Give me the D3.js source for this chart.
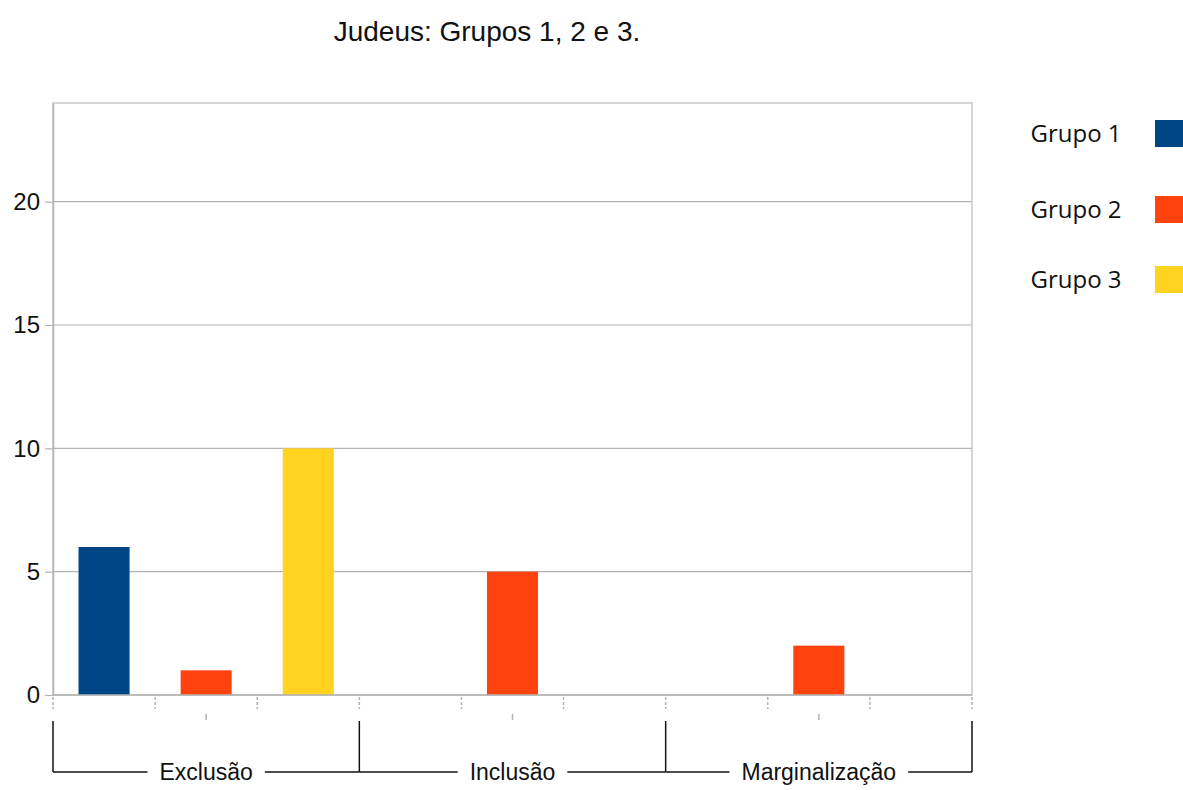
<!DOCTYPE html>
<html>
<head>
<meta charset="utf-8">
<script src="https://cdn.jsdelivr.net/npm/d3@7"></script>
<style>
  body { margin: 0; background: #fff; }
  svg { display: block; }
</style>
</head>
<body>
<svg id="chart" width="1183" height="790"></svg>
<script>
// chart data
const categories = ["Exclusão", "Inclusão", "Marginalização"];
const groups = ["Grupo 1", "Grupo 2", "Grupo 3"];
const grupo1 = [6, 0, 0];
const grupo2 = [1, 5, 2];
const grupo3 = [10, 0, 0];
const yTicks = [0, 5, 10, 15, 20];
const colors = ["#004586", "#ff420e", "#ffd320"];

const series = [grupo1, grupo2, grupo3];

const svg = d3.select("#chart");
const margin = { top: 103, right: 211, bottom: 95, left: 53 };
const W = 1183, H = 790;

const x0 = d3.scaleBand()
  .domain(categories)
  .range([margin.left, W - margin.right])
  .padding(0);

const x1 = d3.scaleBand()
  .domain(groups)
  .range([0, x0.bandwidth()])
  .padding(0);

const y = d3.scaleLinear()
  .domain([0, 24])
  .range([H - margin.bottom, margin.top]);

const axisFont = "Liberation Sans, Arial, sans-serif";

// title
svg.append("text")
  .attr("x", 487)
  .attr("y", 41)
  .attr("text-anchor", "middle")
  .style("font-family", axisFont)
  .style("font-size", "28px")
  .attr("fill", "#111")
  .text("Judeus: Grupos 1, 2 e 3.");

// grid
svg.append("g")
  .selectAll("line")
  .data(yTicks.filter(d => d > 0))
  .join("line")
  .attr("x1", margin.left)
  .attr("x2", W - margin.right)
  .attr("y1", d => y(d))
  .attr("y2", d => y(d))
  .attr("stroke", "#b3b3b3")
  .attr("stroke-width", 1.2);

// plot frame
svg.append("rect")
  .attr("x", margin.left)
  .attr("y", margin.top)
  .attr("width", W - margin.right - margin.left)
  .attr("height", H - margin.bottom - margin.top)
  .attr("fill", "none")
  .attr("stroke", "#c8c8c8")
  .attr("stroke-width", 1.5);

// y axis
const yAxis = svg.append("g")
  .attr("transform", `translate(${margin.left},0)`)
  .call(d3.axisLeft(y).tickValues(yTicks).tickSize(8).tickSizeOuter(0).tickPadding(5));
yAxis.select(".domain").attr("stroke", "#b3b3b3").attr("stroke-width", 1.5);
yAxis.selectAll(".tick line").attr("stroke", "#b3b3b3").attr("stroke-width", 1.2);
yAxis.selectAll("text")
  .style("font-family", axisFont)
  .style("font-size", "24px")
  .attr("fill", "#111");

// bars
const barData = [];
categories.forEach((c, ci) => {
  groups.forEach((g, gi) => {
    barData.push({ cat: c, group: g, gi: gi, value: series[gi][ci] });
  });
});

const slot = x1.bandwidth();
svg.append("g")
  .selectAll("rect")
  .data(barData.filter(d => d.value > 0))
  .join("rect")
  .attr("x", d => x0(d.cat) + x1(d.group) + slot * 0.25)
  .attr("y", d => y(d.value))
  .attr("width", slot * 0.5)
  .attr("height", d => y(0) - y(d.value))
  .attr("fill", d => colors[d.gi]);

// x axis baseline
const y0 = y(0);
svg.append("line")
  .attr("x1", margin.left)
  .attr("x2", W - margin.right)
  .attr("y1", y0)
  .attr("y2", y0)
  .attr("stroke", "#b3b3b3")
  .attr("stroke-width", 1.5);

// slot boundary ticks
const bounds = [];
categories.forEach(c => groups.forEach(g => bounds.push(x0(c) + x1(g))));
bounds.push(W - margin.right);
svg.append("g")
  .selectAll("line")
  .data(bounds)
  .join("line")
  .attr("x1", d => d)
  .attr("x2", d => d)
  .attr("y1", y0 + 2)
  .attr("y2", y0 + 14)
  .attr("stroke", "#b3b3b3")
  .attr("stroke-width", 1.5)
  .attr("stroke-dasharray", "3,2");

// middle ticks
svg.append("g")
  .selectAll("line")
  .data(categories)
  .join("line")
  .attr("x1", d => x0(d) + x0.bandwidth() / 2)
  .attr("x2", d => x0(d) + x0.bandwidth() / 2)
  .attr("y1", y0 + 19)
  .attr("y2", y0 + 25)
  .attr("stroke", "#b3b3b3")
  .attr("stroke-width", 1.5);

// category brackets
const bracketY = 772;
const catBounds = categories.map(c => x0(c)).concat([W - margin.right]);
svg.append("g")
  .selectAll("line")
  .data(catBounds)
  .join("line")
  .attr("x1", d => d)
  .attr("x2", d => d)
  .attr("y1", y0 + 26)
  .attr("y2", bracketY)
  .attr("stroke", "#111")
  .attr("stroke-width", 1.5);

const labels = svg.append("g")
  .selectAll("text")
  .data(categories)
  .join("text")
  .attr("x", d => x0(d) + x0.bandwidth() / 2)
  .attr("y", 780)
  .attr("text-anchor", "middle")
  .style("font-family", axisFont)
  .style("font-size", "23px")
  .attr("fill", "#111")
  .text(d => d);

labels.each(function (d) {
  const bb = this.getBBox();
  const left = x0(d), right = x0(d) + x0.bandwidth();
  svg.append("line")
    .attr("x1", left).attr("x2", bb.x - 12)
    .attr("y1", bracketY).attr("y2", bracketY)
    .attr("stroke", "#111").attr("stroke-width", 1.5);
  svg.append("line")
    .attr("x1", bb.x + bb.width + 12).attr("x2", right)
    .attr("y1", bracketY).attr("y2", bracketY)
    .attr("stroke", "#111").attr("stroke-width", 1.5);
});

// legend
const legend = svg.append("g")
  .selectAll("g")
  .data(groups)
  .join("g")
  .attr("transform", (d, i) => `translate(0,${[133, 209, 279][i]})`);

legend.append("text")
  .attr("x", 1076)
  .attr("y", 9)
  .attr("text-anchor", "middle")
  .style("font-family", "Open Sans, Noto Sans, sans-serif")
  .style("font-size", "24px")
  .attr("fill", "#111")
  .text(d => d);

legend.append("rect")
  .attr("x", 1155)
  .attr("y", -13)
  .attr("width", 30)
  .attr("height", 27)
  .attr("fill", (d, i) => colors[i]);
</script>
</body>
</html>
